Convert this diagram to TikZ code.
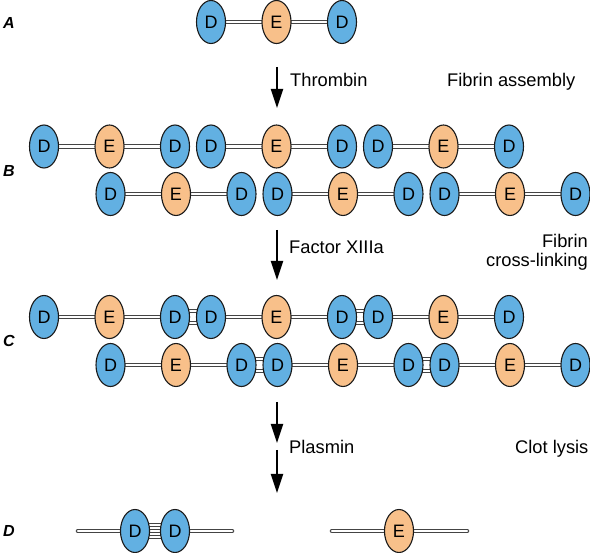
\documentclass[tikz,border=0pt]{standalone}
\usepackage{fontspec}
\setmainfont{Liberation Sans}
\usetikzlibrary{shapes.geometric,arrows.meta}
\pgfdeclarelayer{bg}
\pgfsetlayers{bg,main}
\definecolor{dblue}{HTML}{62B0E2}
\definecolor{eorange}{HTML}{F8C08A}
\definecolor{edgec}{HTML}{1A1A1A}
\definecolor{bondc}{HTML}{444444}
\begin{document}
\begin{tikzpicture}[x=1pt,y=-1pt,
  dom/.style={ellipse, draw=edgec, line width=1.1pt, minimum width=29pt, minimum height=43pt, inner sep=0pt, font=\fontsize{18}{18}\selectfont},
  dd/.style={dom, fill=dblue},
  ee/.style={dom, fill=eorange},
  bond/.style={draw=bondc, line width=1pt, double=white, double distance=2.6pt},
  bondr/.style={bond, line cap=round},
  arr/.style={line width=2pt, -{Triangle[length=19pt,width=12pt]}},
  lbl/.style={anchor=base west, inner sep=0pt, font=\fontsize{18.3}{21}\selectfont},
  rlbl/.style={anchor=base east, inner sep=0pt, font=\fontsize{18.3}{21}\selectfont},
  rowlbl/.style={anchor=base west, inner sep=0pt, font=\fontsize{16}{16}\selectfont\bfseries\itshape}]
\useasboundingbox (0,0) rectangle (590,553);

% row labels
\node[rowlbl] (lA) at (3,29) {A};
\node[rowlbl] (lB) at (3,177) {B};
\node[rowlbl] (lC) at (3,347) {C};
\node[rowlbl] (lD) at (3,537) {D};

% Row A
\node[dd] (a1) at (211,22) {D};
\node[ee] (a2) at (276.5,22) {E};
\node[dd] (a3) at (342,22) {D};

% Row B top
\foreach \i/\x in {1/44,2/211,3/378}{
  \node[dd] (bt\i a) at (\x,146.5) {D};
  \node[ee] (bt\i b) at (\x+65.5,146.5) {E};
  \node[dd] (bt\i c) at (\x+131,146.5) {D};
}
% Row B bottom
\foreach \i/\x in {1/110.5,2/277.5,3/444.5}{
  \node[dd] (bb\i a) at (\x,194) {D};
  \node[ee] (bb\i b) at (\x+65.5,194) {E};
  \node[dd] (bb\i c) at (\x+131,194) {D};
}
% Row C top
\foreach \i/\x in {1/44,2/211,3/378}{
  \node[dd] (ct\i a) at (\x,317) {D};
  \node[ee] (ct\i b) at (\x+65.5,317) {E};
  \node[dd] (ct\i c) at (\x+131,317) {D};
}
% Row C bottom
\foreach \i/\x in {1/110.5,2/277.5,3/444.5}{
  \node[dd] (cb\i a) at (\x,365) {D};
  \node[ee] (cb\i b) at (\x+65.5,365) {E};
  \node[dd] (cb\i c) at (\x+131,365) {D};
}
% Row D
\node[dd] (d1) at (135,531) {D};
\node[dd] (d2) at (175,531) {D};
\coordinate (dl1) at (78,531);
\coordinate (dl2) at (232,531);
\node[ee] (d3) at (399,531) {E};
\coordinate (el1) at (332,531);
\coordinate (el2) at (467,531);

\begin{pgfonlayer}{bg}
  \draw[bond] (a1.center) -- (a2.center) -- (a3.center);
  \foreach \r in {bt,bb,ct,cb}{
    \foreach \i in {1,2,3}{
      \draw[bond] (\r\i a.center) -- (\r\i b.center) -- (\r\i c.center);
    }
  }
  % cross-links
  \foreach \p/\q in {ct1c/ct2a,ct2c/ct3a,cb1c/cb2a,cb2c/cb3a,d1/d2}{
    \draw[bond] ([yshift=-6pt]\p.center) -- ([yshift=-6pt]\q.center);
    \draw[bond] ([yshift=6pt]\p.center) -- ([yshift=6pt]\q.center);
  }
  \draw[bondr] (dl1) -- (dl2);
  \draw[bondr] (el1) -- (el2);
\end{pgfonlayer}

% arrows
\coordinate (t1) at (277,67);
\coordinate (t2) at (277,108);
\coordinate (f1) at (277,230);
\coordinate (f2) at (277,280);
\coordinate (p1) at (277,402);
\coordinate (p2) at (277,443);
\coordinate (p3) at (277,450);
\coordinate (p4) at (277,493);
\draw[arr] (t1) -- (t2);
\draw[arr] (f1) -- (f2);
\draw[arr] (p1) -- (p2);
\draw[arr] (p3) -- (p4);

% texts
\node[lbl] (thr) at (290,87) {Thrombin};
\node[lbl] (fa) at (447,87) {Fibrin assembly};
\node[lbl] (fx) at (289,254) {Factor XIIIa};
\node[rlbl] (fb) at (588,248) {Fibrin};
\node[rlbl] (fcl) at (588,267) {cross-linking};
\node[lbl] (pl) at (289,454) {Plasmin};
\node[lbl] (cl) at (515,454) {Clot lysis};
\end{tikzpicture}
\end{document}
